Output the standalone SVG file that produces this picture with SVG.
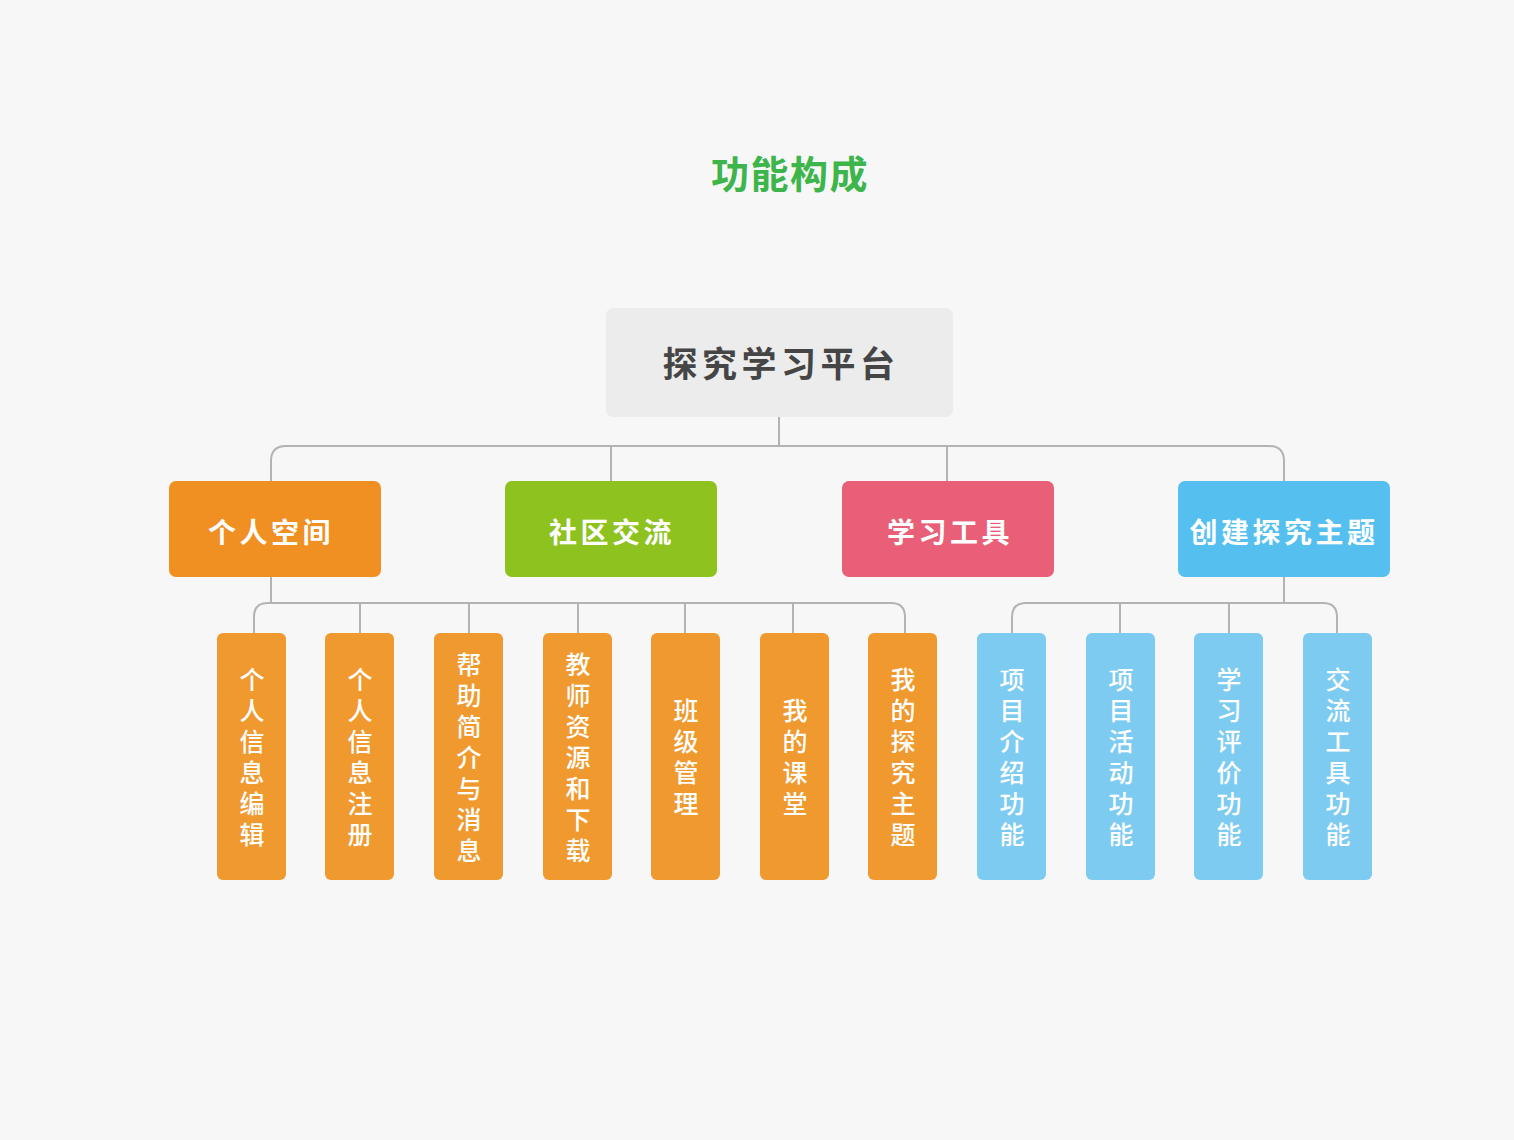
<svg xmlns="http://www.w3.org/2000/svg" width="1514" height="1140" viewBox="0 0 1514 1140">
<style>
text{font-family:"Noto Sans CJK SC","Noto Sans",sans-serif;}
.title{font-size:38px;font-weight:700;fill:#3db54b;letter-spacing:1.5px;}
.root{fill:#ececec;}
.roott{font-size:35px;font-weight:700;fill:#454545;letter-spacing:4.5px;}
.l1t{font-size:28px;font-weight:700;fill:#ffffff;letter-spacing:3.5px;}
.leaft{font-size:25px;font-weight:500;fill:#ffffff;writing-mode:vertical-rl;letter-spacing:6px;text-anchor:middle;}
.or{fill:#f0992f;}
.bl{fill:#7ecbf2;}
.conn{fill:none;stroke:#b3b3b3;stroke-width:2;}
</style>
<rect width="1514" height="1140" fill="#f7f7f7"/>
<text class="title" x="790" y="188" text-anchor="middle">功能构成</text>
<g id="connectors" class="conn">
<path d="M779 417V446"/>
<path d="M271 481V461Q271 446 286 446H1269Q1284 446 1284 461V481"/>
<path d="M611 446V481"/>
<path d="M947 446V481"/>
<path d="M271 577V603"/>
<path d="M254 633V617Q254 603 268 603H891Q905 603 905 617V633"/>
<path d="M360 603V633M469 603V633M578 603V633M685 603V633M793 603V633"/>
<path d="M1284 577V603"/>
<path d="M1012 633V617Q1012 603 1026 603H1323Q1337 603 1337 617V633"/>
<path d="M1120 603V633M1229 603V633"/>
</g>
<g id="root"><rect class="root" x="606" y="308" width="347" height="109" rx="7"/><text class="roott" x="781" y="377" text-anchor="middle">探究学习平台</text></g>
<g id="n-geren"><rect x="169" y="481" width="212" height="96" rx="7" fill="#f09023"/><text class="l1t" x="271" y="543" text-anchor="middle">个人空间</text></g>
<g id="n-shequ"><rect x="505" y="481" width="212" height="96" rx="7" fill="#8dc21f"/><text class="l1t" x="612" y="543" text-anchor="middle">社区交流</text></g>
<g id="n-xuexi"><rect x="842" y="481" width="212" height="96" rx="7" fill="#e95f78"/><text class="l1t" x="950" y="543" text-anchor="middle">学习工具</text></g>
<g id="n-chuangjian"><rect x="1178" y="481" width="212" height="96" rx="7" fill="#55c0ef"/><text class="l1t" x="1284" y="543" text-anchor="middle">创建探究主题</text></g>
<g id="leaf1"><rect class="or" x="217" y="633" width="69" height="247" rx="6"/><text class="leaft" x="252" y="760">个人信息编辑</text></g>
<g id="leaf2"><rect class="or" x="325" y="633" width="69" height="247" rx="6"/><text class="leaft" x="360" y="760">个人信息注册</text></g>
<g id="leaf3"><rect class="or" x="434" y="633" width="69" height="247" rx="6"/><text class="leaft" x="469" y="760">帮助简介与消息</text></g>
<g id="leaf4"><rect class="or" x="543" y="633" width="69" height="247" rx="6"/><text class="leaft" x="578" y="760">教师资源和下载</text></g>
<g id="leaf5"><rect class="or" x="651" y="633" width="69" height="247" rx="6"/><text class="leaft" x="686" y="760">班级管理</text></g>
<g id="leaf6"><rect class="or" x="760" y="633" width="69" height="247" rx="6"/><text class="leaft" x="795" y="760">我的课堂</text></g>
<g id="leaf7"><rect class="or" x="868" y="633" width="69" height="247" rx="6"/><text class="leaft" x="903" y="760">我的探究主题</text></g>
<g id="leaf8"><rect class="bl" x="977" y="633" width="69" height="247" rx="6"/><text class="leaft" x="1012" y="760">项目介绍功能</text></g>
<g id="leaf9"><rect class="bl" x="1086" y="633" width="69" height="247" rx="6"/><text class="leaft" x="1121" y="760">项目活动功能</text></g>
<g id="leaf10"><rect class="bl" x="1194" y="633" width="69" height="247" rx="6"/><text class="leaft" x="1229" y="760">学习评价功能</text></g>
<g id="leaf11"><rect class="bl" x="1303" y="633" width="69" height="247" rx="6"/><text class="leaft" x="1338" y="760">交流工具功能</text></g>
</svg>
